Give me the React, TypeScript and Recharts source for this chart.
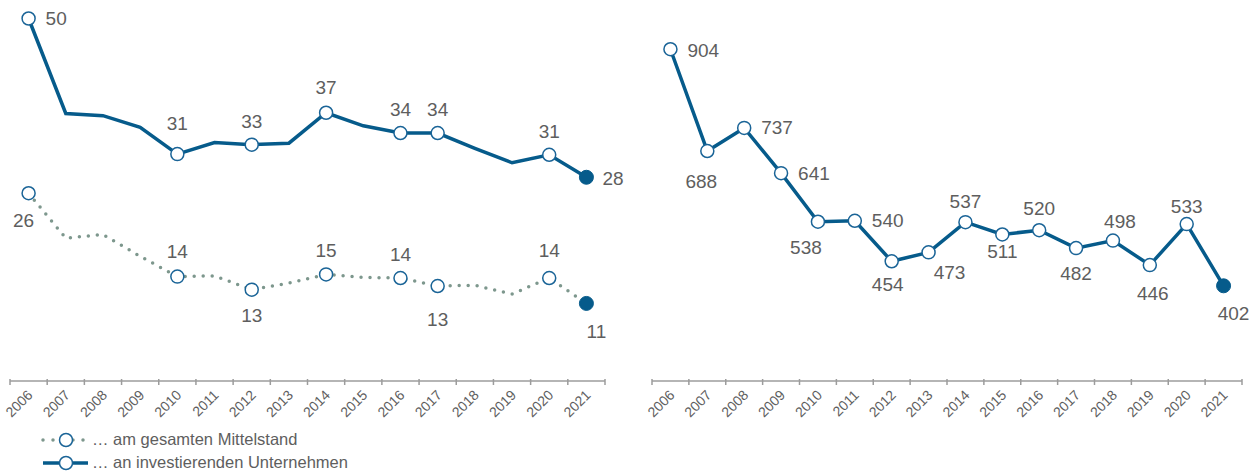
import React from "react";
import { LineChart, Line, XAxis, YAxis, LabelList } from "recharts";

const YEARS = [2006, 2007, 2008, 2009, 2010, 2011, 2012, 2013, 2014, 2015, 2016, 2017, 2018, 2019, 2020, 2021];
const MITTELSTAND = [25.9, 19.7, 20.2, 17.2, 14.4, 14.5, 12.6, 13.5, 14.7, 14.3, 14.2, 13.1, 13.2, 12.0, 14.2, 10.7];
const INVESTIEREND = [50, 36.9, 36.6, 35.0, 31.3, 32.9, 32.6, 32.8, 37.0, 35.2, 34.2, 34.2, 32.1, 30.1, 31.2, 28.1];
const ABSOLUT = [904, 688, 737, 641, 538, 540, 454, 473, 537, 511, 520, 482, 498, 446, 533, 402];
const LEFT_MARKED = [2006, 2010, 2012, 2014, 2016, 2017, 2020, 2021];

const leftData = YEARS.map((year, i) => ({
  year,
  mittelstand: MITTELSTAND[i],
  investierend: INVESTIEREND[i],
}));
const rightData = YEARS.map((year, i) => ({ year, absolut: ABSOLUT[i] }));

const BLUE = "#065b8b";
const MARKER = "#1a6497";
const GREY_LINE = "#7d978d";
const TEXT = "#5e5e5e";
const AXIS = "#9c9c9c";

// label placement: [dx, dy, anchor]
type Place = [number, number, "start" | "middle"];
const INV_PLACE: Record<number, Place> = {
  2006: [17, 0, "start"],
  2010: [0, -31, "middle"],
  2012: [0, -23, "middle"],
  2014: [0, -25, "middle"],
  2016: [0, -24, "middle"],
  2017: [0, -24, "middle"],
  2020: [0, -23, "middle"],
  2021: [16, 1, "start"],
};
const MIT_PLACE: Record<number, Place> = {
  2006: [-5, 27, "middle"],
  2010: [0, -25, "middle"],
  2012: [0, 26, "middle"],
  2014: [0, -24, "middle"],
  2016: [0, -24, "middle"],
  2017: [0, 33, "middle"],
  2020: [0, -28, "middle"],
  2021: [10, 28, "middle"],
};
const ABS_PLACE: Record<number, Place> = {
  2006: [17, 1, "start"],
  2007: [-6, 30, "middle"],
  2008: [17, 0, "start"],
  2009: [17, 0, "start"],
  2010: [-12, 26, "middle"],
  2011: [17, 0, "start"],
  2012: [-4, 23, "middle"],
  2013: [21, 20, "middle"],
  2014: [0, -21, "middle"],
  2015: [0, 17, "middle"],
  2016: [0, -22, "middle"],
  2017: [0, 25, "middle"],
  2018: [7, -19, "middle"],
  2019: [3, 28, "middle"],
  2020: [0, -18, "middle"],
  2021: [10, 28, "middle"],
};

const makeDot = (marked: number[] | null) => (props: any) => {
  const { cx, cy, payload, index } = props;
  const key = `d-${index}`;
  if (marked && !marked.includes(payload.year)) return <g key={key} />;
  if (payload.year === YEARS[YEARS.length - 1]) {
    return <circle key={key} cx={cx} cy={cy} r={7} fill={BLUE} stroke={BLUE} />;
  }
  return <circle key={key} cx={cx} cy={cy} r={6.5} fill="#fff" stroke={MARKER} strokeWidth={1.5} />;
};

const makeLabel = (places: Record<number, Place>) => (props: any) => {
  const { x, y, value, index } = props;
  const p = places[YEARS[index]];
  if (!p) return null;
  return (
    <text
      key={`l-${index}`}
      x={x + p[0]}
      y={y + p[1]}
      textAnchor={p[2]}
      dominantBaseline="central"
      fontSize={19}
      fill={TEXT}
    >
      {Math.round(value)}
    </text>
  );
};

const renderTick = (props: any) => {
  const { x, y, payload, index, width } = props;
  const bw = width / YEARS.length;
  const axisY = y - 8;
  const last = index === YEARS.length - 1;
  return (
    <g>
      <line x1={x - bw / 2} x2={x - bw / 2} y1={axisY - 2} y2={axisY + 4} stroke={AXIS} strokeWidth={1.5} />
      {last && <line x1={x + bw / 2} x2={x + bw / 2} y1={axisY - 2} y2={axisY + 4} stroke={AXIS} strokeWidth={1.5} />}
      <text
        x={x + 5}
        y={y + 7}
        transform={`rotate(-45, ${x + 5}, ${y + 7})`}
        textAnchor="end"
        fontSize={14}
        fill={TEXT}
      >
        {payload.value}
      </text>
    </g>
  );
};

const xAxisProps = {
  type: "number" as const,
  dataKey: "year",
  domain: [2005.5, 2021.5],
  ticks: YEARS,
  interval: 0 as const,
  tickLine: false,
  axisLine: { stroke: AXIS, strokeWidth: 1.5 },
  tick: renderTick,
  height: 40,
};

function LegendRow({ dotted, label }: { dotted: boolean; label: string }) {
  return (
    <div style={{ display: "flex", alignItems: "center", height: 23 }}>
      <svg width={55} height={16}>
        {dotted ? (
          <line x1={6} x2={50} y1={8} y2={8} stroke={GREY_LINE} strokeWidth={3.5} strokeDasharray="0 10" strokeLinecap="round" />
        ) : (
          <line x1={6} x2={51} y1={8} y2={8} stroke={BLUE} strokeWidth={3.5} />
        )}
        <circle cx={29} cy={8} r={6.5} fill="#fff" stroke={MARKER} strokeWidth={1.5} />
      </svg>
      <span style={{ fontSize: 16.5, color: TEXT }}>{label}</span>
    </div>
  );
}

export default function App() {
  return (
    <div
      style={{
        position: "absolute",
        left: 0,
        top: 0,
        width: 1258,
        height: 473,
        background: "#fff",
        fontFamily: "'Liberation Sans', Arial, sans-serif",
        overflow: "hidden",
      }}
    >
      <div style={{ position: "absolute", left: 0, top: 0 }}>
        <LineChart width={630} height={473} data={leftData} margin={{ top: 4, right: 25, bottom: 52, left: 10 }}>
          <XAxis {...xAxisProps} />
          <YAxis hide domain={[0, 52]} />
          <Line
            dataKey="mittelstand"
            stroke={GREY_LINE}
            strokeWidth={3.5}
            strokeDasharray="0 9"
            strokeLinecap="round"
            dot={makeDot(LEFT_MARKED)}
            activeDot={false}
            isAnimationActive={false}
          >
            <LabelList dataKey="mittelstand" content={makeLabel(MIT_PLACE)} />
          </Line>
          <Line
            dataKey="investierend"
            stroke={BLUE}
            strokeWidth={3.5}
            dot={makeDot(LEFT_MARKED)}
            activeDot={false}
            isAnimationActive={false}
          >
            <LabelList dataKey="investierend" content={makeLabel(INV_PLACE)} />
          </Line>
        </LineChart>
      </div>
      <div style={{ position: "absolute", left: 630, top: 0 }}>
        <LineChart width={628} height={473} data={rightData} margin={{ top: 4, right: 16, bottom: 52, left: 22 }}>
          <XAxis {...xAxisProps} />
          <YAxis hide domain={[200, 1000]} />
          <Line
            dataKey="absolut"
            stroke={BLUE}
            strokeWidth={3.5}
            dot={makeDot(null)}
            activeDot={false}
            isAnimationActive={false}
          >
            <LabelList dataKey="absolut" content={makeLabel(ABS_PLACE)} />
          </Line>
        </LineChart>
      </div>
      <div style={{ position: "absolute", left: 37, top: 428 }}>
        <LegendRow dotted label="… am gesamten Mittelstand" />
        <LegendRow dotted={false} label="… an investierenden Unternehmen" />
      </div>
    </div>
  );
}
